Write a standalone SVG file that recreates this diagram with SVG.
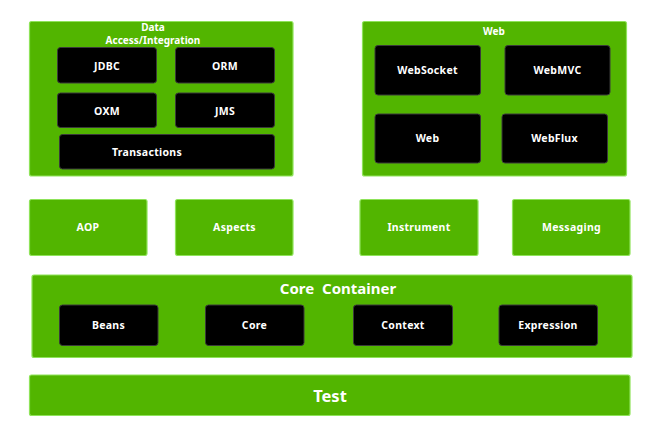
<svg xmlns="http://www.w3.org/2000/svg" width="653" height="432" viewBox="0 0 653 432">
<style>
.g{fill:#52b500;stroke:#8fe35a;stroke-width:1.2}
.b{fill:#000;stroke:#3a3a3a;stroke-width:1}
text{font-family:"Noto Sans","Open Sans","DejaVu Sans",sans-serif;font-weight:bold;fill:#fff;text-anchor:middle;dominant-baseline:central}
.s{font-size:10.5px;letter-spacing:0.3px}
.t{font-size:10px}
.l{font-size:15px}
</style>
<rect width="653" height="432" fill="#fff"/>
<g id="data">
<rect class="g" x="29.5" y="21.5" width="263.5" height="154.5" rx="2"/>
<text class="t" x="153" y="26.5">Data</text>
<text class="t" x="153" y="39.5">Access/Integration</text>
</g>
<g id="jdbc"><rect class="b" x="57.5" y="47.5" width="99" height="35.5" rx="3"/><text class="s" x="107" y="65.5">JDBC</text></g>
<g id="orm"><rect class="b" x="175.5" y="47.5" width="99" height="35.5" rx="3"/><text class="s" x="225" y="65.5">ORM</text></g>
<g id="oxm"><rect class="b" x="57.5" y="93" width="99" height="34.5" rx="3"/><text class="s" x="107" y="110.5">OXM</text></g>
<g id="jms"><rect class="b" x="175.5" y="93" width="99" height="34.5" rx="3"/><text class="s" x="225" y="110.5">JMS</text></g>
<g id="transactions"><rect class="b" x="59.5" y="134.5" width="215" height="34.5" rx="3"/><text class="s" x="147" y="151.5">Transactions</text></g>
<g id="web-group">
<rect class="g" x="362.5" y="21.5" width="264" height="154.5" rx="2"/>
<text class="t" x="494" y="30.5">Web</text>
</g>
<g id="websocket"><rect class="b" x="375" y="45.5" width="105.5" height="49.5" rx="3"/><text class="s" x="427.5" y="70">WebSocket</text></g>
<g id="webmvc"><rect class="b" x="505" y="45.5" width="105" height="49.5" rx="3"/><text class="s" x="557.5" y="70">WebMVC</text></g>
<g id="web"><rect class="b" x="375" y="114" width="105.5" height="49" rx="3"/><text class="s" x="427.5" y="138">Web</text></g>
<g id="webflux"><rect class="b" x="502" y="114" width="105.5" height="49" rx="3"/><text class="s" x="554.5" y="138">WebFlux</text></g>
<g id="aop"><rect class="g" x="29.5" y="199.5" width="117.5" height="56" rx="2"/><text class="s" x="88" y="227">AOP</text></g>
<g id="aspects"><rect class="g" x="175.5" y="199.5" width="117.5" height="56" rx="2"/><text class="s" x="234.5" y="227">Aspects</text></g>
<g id="instrument"><rect class="g" x="360" y="199.5" width="118" height="56" rx="2"/><text class="s" x="419" y="227">Instrument</text></g>
<g id="messaging"><rect class="g" x="512.5" y="199.5" width="117.5" height="56" rx="2"/><text class="s" x="571.5" y="227">Messaging</text></g>
<g id="core-container">
<rect class="g" x="32" y="275" width="600" height="82.5" rx="2"/>
<text class="l" x="338" y="287.5" xml:space="preserve">Core  Container</text>
</g>
<g id="beans"><rect class="b" x="59.5" y="305" width="98.5" height="40.5" rx="3"/><text class="s" x="108.5" y="325">Beans</text></g>
<g id="core"><rect class="b" x="205.5" y="305" width="98.5" height="40.5" rx="3"/><text class="s" x="254.5" y="325">Core</text></g>
<g id="context"><rect class="b" x="353.5" y="305" width="99" height="40.5" rx="3"/><text class="s" x="403" y="325">Context</text></g>
<g id="expression"><rect class="b" x="499" y="305" width="98.5" height="40.5" rx="3"/><text class="s" x="548" y="325">Expression</text></g>
<g id="test"><rect class="g" x="29.5" y="375" width="600.5" height="40.5" rx="2"/><text x="330" y="395" style="font-size:16.5px">Test</text></g>
<g id="connectors"></g>
</svg>
